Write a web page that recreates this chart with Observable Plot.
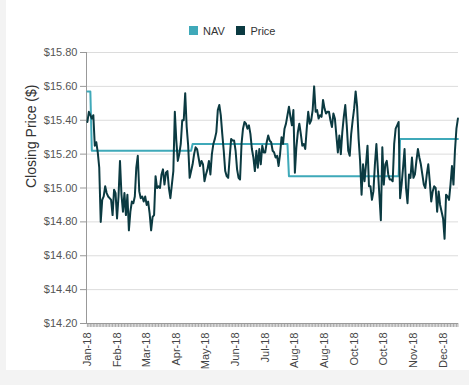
<!DOCTYPE html>
<html><head><meta charset="utf-8">
<script src="https://cdn.jsdelivr.net/npm/d3@7"></script>
<script src="https://cdn.jsdelivr.net/npm/@observablehq/plot@0.6"></script>
<style>
body{margin:0;background:#f3f3f3;font-family:"Liberation Sans",Arial,sans-serif;}
#panel{position:absolute;left:6px;top:0;width:463px;height:370px;background:#fff;}
#legend{height:44px;padding-top:14px;box-sizing:border-box;display:flex;justify-content:center;}
#chart svg{display:block;}
</style></head><body><div id="panel"><div id="legend"></div><div id="chart"></div></div>
<script>
// Daily closing prices, 2018 (one value per trading day)
const price = [
15.39,15.45,15.43,15.41,15.43,15.25,15.27,15.21,15.12,14.80,
14.93,14.95,15.01,14.97,14.95,14.94,14.93,14.84,14.99,14.97,
14.82,14.95,15.16,14.96,14.86,14.97,14.84,14.96,14.75,14.86,
14.92,14.91,14.95,15.12,15.19,14.98,14.94,14.95,14.92,14.95,
14.90,
14.92,14.85,14.75,14.83,14.84,15.07,15.00,15.01,15.00,
15.08,15.11,15.02,15.09,15.10,15.00,14.94,15.02,15.10,15.45,
15.28,15.16,15.20,15.26,15.40,15.40,15.56,15.36,15.25,15.06,
15.10,15.14,15.20,15.24,15.23,15.18,15.13,15.16,15.14,15.04,
15.08,15.11,15.16,
15.08,15.20,15.26,15.29,15.33,15.46,15.49,
15.43,15.32,15.22,15.10,15.07,15.06,15.18,15.29,15.28,15.28,
15.22,15.11,15.06,15.05,15.26,15.35,15.39,15.38,15.35,15.37,
15.32,15.23,15.18,15.10,15.22,15.12,15.23,15.14,15.25,15.21,
15.21,15.27,15.31,15.28,
15.27,15.22,15.21,15.18,15.19,15.13,
15.20,15.30,15.26,15.35,15.38,15.43,15.48,15.42,15.37,15.46,
15.09,15.24,15.33,15.38,15.32,15.25,15.26,15.23,15.35,15.45,
15.38,15.40,15.46,15.60,15.45,15.46,15.41,15.43,15.42,15.52,
15.47,15.44,15.45,15.45,15.40,15.36,
15.44,15.41,15.31,15.21,
15.31,15.20,15.33,15.42,15.49,15.37,15.22,15.19,15.32,15.40,
15.47,15.57,15.48,15.29,15.16,14.96,15.14,15.04,15.14,15.25,
15.01,15.01,14.93,14.98,15.14,15.26,15.11,14.96,14.81,15.24,
15.02,15.14,15.16,15.08,15.05,15.05,15.04,15.26,
15.35,15.37,
15.39,14.94,15.02,15.12,15.23,15.00,14.91,15.08,15.06,15.18,
15.06,15.08,15.16,15.23,15.18,15.14,15.08,15.02,15.00,15.08,
15.14,15.04,14.92,14.98,15.01,15.00,14.86,14.98,14.90,14.86,
14.82,14.70,14.96,14.95,14.93,15.02,15.13,15.02,15.22,15.35,
15.41
];
// NAV levels and the trading-day index where each level begins
const navLevels = [15.57, 15.22, 15.26, 15.07, 15.29];
const navStarts = [0, 3, 71, 136, 211];
// x tick labels (every 20th trading day)
const tickLabels = ["Jan-18","Feb-18","Mar-18","Apr-18","May-18","Jun-18","Jul-18","Aug-18","Aug-18","Oct-18","Oct-18","Nov-18","Dec-18"];
const labelStep = 20;
const yTicks = [14.2,14.4,14.6,14.8,15.0,15.2,15.4,15.6,15.8];
const seriesNames = ["NAV","Price"];
const seriesColors = ["#3fa9b9","#0b3a41"];

const priceData = price.map((v,i)=>({i, v}));
const navData = price.map((_,i)=>{
  let k = 0;
  navStarts.forEach((s,j)=>{ if (i >= s) k = j; });
  return {i, v: navLevels[k]};
});
const allIdx = price.map((_,i)=>i);
const labelIdx = tickLabels.map((_,k)=>k*labelStep);
const font = "'Liberation Sans', Arial, sans-serif";

document.getElementById("legend").appendChild(Plot.legend({
  color:{domain:seriesNames, range:seriesColors},
  legend:"swatches", swatchSize:9,
  style:{fontSize:"11px", fontFamily:font, color:"#333"}
}));

const chart = Plot.plot({
  width:463, height:326,
  marginTop:8, marginBottom:47, marginLeft:80, marginRight:11,
  style:{fontFamily:font, fontSize:"11px", color:"#444", background:"transparent"},
  x:{domain:[-0.6, price.length-0.6], axis:null},
  y:{domain:[14.2,15.8], axis:null},
  marks:[
    Plot.gridY(yTicks, {stroke:"#dcdcdc", strokeOpacity:1}),
    Plot.axisY(yTicks, {tickSize:6, tickPadding:3, stroke:"#999", fill:"#555", tickFormat:d=>"$"+d.toFixed(2), label:null}),
    Plot.axisX(allIdx, {tickSize:4, tickFormat:()=>"", stroke:"#aaa", label:null}),
    Plot.axisX(labelIdx, {tickSize:0, tickPadding:9, tickRotate:-90, fill:"#444", tickFormat:d=>tickLabels[d/labelStep], label:null}),
    Plot.ruleX([-0.6], {stroke:"#999"}),
    Plot.ruleY([14.2], {stroke:"#999"}),
    Plot.line(navData, {x:"i", y:"v", stroke:seriesColors[0], strokeWidth:2}),
    Plot.line(priceData, {x:"i", y:"v", stroke:seriesColors[1], strokeWidth:2}),
    Plot.text(["Closing Price ($)"], {text:d=>d, frameAnchor:"left", dx:-55, rotate:-90, fontSize:14, fill:"#333"})
  ]
});
document.getElementById("chart").appendChild(chart);
</script>
</body></html>
